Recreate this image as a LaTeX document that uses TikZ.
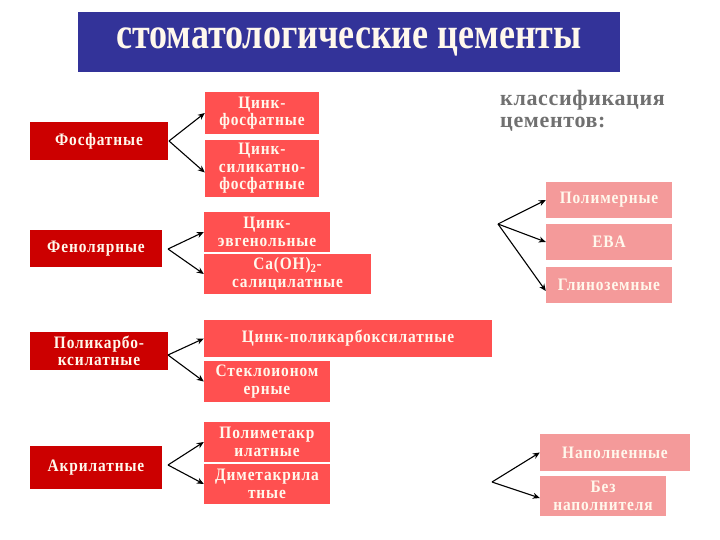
\documentclass[tikz,border=0pt]{standalone}
\usepackage{fontspec}
\setmainfont{Liberation Serif}
\usetikzlibrary{arrows.meta}
\definecolor{titleblue}{HTML}{333399}
\definecolor{darkred}{HTML}{CC0000}
\definecolor{midred}{HTML}{FF5050}
\definecolor{pinkbox}{HTML}{F49A9A}
\definecolor{cream}{HTML}{FFF8EC}
\definecolor{graytxt}{HTML}{707070}
\begin{document}
\begin{tikzpicture}[x=1pt,y=-1pt,
  box/.style={inner sep=0pt, align=center, text=cream,
    font=\bfseries\fontsize{17.5}{17.5}\selectfont\addfontfeature{FakeStretch=0.88,LetterSpace=5}},
  dbox/.style={box, fill=darkred},
  mbox/.style={box, fill=midred},
  pbox/.style={box, fill=pinkbox},
  conn/.style={-{Stealth[length=7pt,width=6pt]}, line width=1.1pt, black}
]
\useasboundingbox[fill=white] (0,0) rectangle (720,540);

% title
\node[fill=titleblue, minimum width=542pt, minimum height=60pt, inner sep=0pt,
  text=cream, font=\bfseries\fontsize{44}{46}\selectfont] (title) at (349,42)
  {\scalebox{0.82}[1]{стоматологические цементы}};

% left column
\node[dbox, minimum width=138pt, minimum height=38pt] (fos) at (99,141) {Фосфатные};
\node[dbox, minimum width=132pt, minimum height=37pt] (fen) at (96,248.5) {Фенолярные};
\node[dbox, minimum width=138pt, minimum height=38pt] (poly) at (99,351) {Поликарбо-\\ксилатные};
\node[dbox, minimum width=132pt, minimum height=43pt] (akr) at (96,467.5) {Акрилатные};

% middle column
\node[mbox, minimum width=114pt, minimum height=42pt] (zf) at (262,113) {Цинк-\\фосфатные};
\node[mbox, minimum width=114pt, minimum height=57pt] (zsf) at (262,168.5) {Цинк-\\силикатно-\\фосфатные};
\node[mbox, minimum width=126pt, minimum height=40pt] (zev) at (267,232) {Цинк-\\эвгенольные};
\node[mbox, minimum width=167pt, minimum height=40pt] (ca) at (287.5,274) {Ca(OH)\textsubscript{2}-\\салицилатные};
\node[mbox, minimum width=288pt, minimum height=37pt] (zpk) at (348,338.5) {Цинк-поликарбоксилатные};
\node[mbox, minimum width=126pt, minimum height=41pt] (stek) at (267,381.5) {Стеклоионом\\ерные};
\node[mbox, minimum width=126pt, minimum height=40pt] (pmak) at (267,442) {Полиметакр\\илатные};
\node[mbox, minimum width=126pt, minimum height=40pt] (dmak) at (267,484) {Диметакрила\\тные};

% right column
\node[anchor=north west, inner sep=0pt, align=left, text=graytxt,
  font=\bfseries\fontsize{22}{22}\selectfont\addfontfeature{LetterSpace=3}] (klass) at (500,90)
  {классификация\\цементов:};
\node[pbox, minimum width=126pt, minimum height=36pt] (polim) at (609,200) {Полимерные};
\node[pbox, minimum width=126pt, minimum height=36pt] (eva) at (609,242) {EBA};
\node[pbox, minimum width=126pt, minimum height=36pt] (glin) at (609,285) {Глиноземные};
\node[pbox, minimum width=150pt, minimum height=37pt] (nap) at (615,452.5) {Наполненные};
\node[pbox, minimum width=126pt, minimum height=40pt] (bez) at (603,496) {Без\\наполнителя};

% forks
\coordinate (f1) at (169,141);
\coordinate (f2) at (168,249);
\coordinate (f3) at (168,355);
\coordinate (f4) at (168,465);
\coordinate (f5) at (498,224);
\coordinate (f6) at (492,482);

\draw[conn] (f1) -- (zf.west);
\draw[conn] (f1) -- ([yshift=-4pt]zsf.west);
\draw[conn] (f2) -- (zev.west);
\draw[conn] (f2) -- (ca.west);
\draw[conn] (f3) -- (zpk.west);
\draw[conn] (f3) -- (stek.west);
\draw[conn] (f4) -- (pmak.west);
\draw[conn] (f4) -- (dmak.west);
\draw[conn] (f5) -- (polim.west);
\draw[conn] (f5) -- (eva.west);
\draw[conn] (f5) -- ([yshift=-6pt]glin.west);
\draw[conn] (f6) -- (nap.west);
\draw[conn] (f6) -- ([yshift=-2pt]bez.west);
\end{tikzpicture}
\end{document}
